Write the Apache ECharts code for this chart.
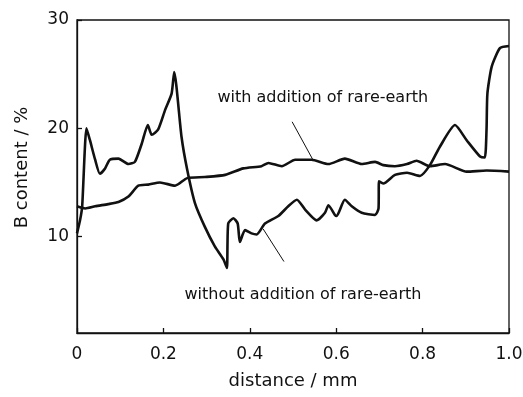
<!DOCTYPE html>
<html>
<head>
<meta charset="utf-8">
<script src="https://cdn.jsdelivr.net/npm/echarts@6/dist/echarts.min.js"></script>
<style>
  html, body { margin: 0; padding: 0; background: #fff; }
  #chart { width: 523px; height: 397px; }
</style>
</head>
<body>
<div id="chart"></div>
<script>
// B content vs distance
const withDist = [0, 0.019, 0.042, 0.072, 0.096, 0.119, 0.142, 0.165, 0.192, 0.227, 0.255, 0.296, 0.343, 0.385,
  0.427, 0.443, 0.474, 0.505, 0.543, 0.582, 0.620, 0.659, 0.690, 0.709, 0.736, 0.764, 0.786, 0.817, 0.852,
  0.902, 0.948, 1.0];
const withB = [12.8, 12.6, 12.8, 13.0, 13.2, 13.7, 14.7, 14.8, 15.0, 14.7, 15.4, 15.5, 15.7, 16.3,
  16.5, 16.8, 16.5, 17.1, 17.1, 16.7, 17.2, 16.7, 16.9, 16.6, 16.5, 16.7, 17.0, 16.5, 16.7,
  16.0, 16.1, 16.0];

const withoutDist = [0, 0.007, 0.012, 0.022, 0.030, 0.042, 0.053, 0.065, 0.076, 0.096, 0.119, 0.134, 0.150,
  0.164, 0.173, 0.188, 0.204, 0.219, 0.225, 0.242, 0.255, 0.273, 0.296, 0.319, 0.339, 0.347, 0.350, 0.362,
  0.372, 0.377, 0.389, 0.404, 0.416, 0.435, 0.466, 0.489, 0.509, 0.528, 0.555, 0.574, 0.582, 0.597, 0.601,
  0.620, 0.636, 0.659, 0.690, 0.698, 0.699, 0.709, 0.736, 0.764, 0.794, 0.817, 0.840, 0.875, 0.902, 0.933,
  0.944, 0.948, 0.950, 0.960, 0.979, 1.0];
const withoutB = [10.3, 11.5, 12.8, 20.0, 18.9, 17.1, 15.8, 16.3, 17.1, 17.2, 16.7, 16.9, 18.6,
  20.3, 19.4, 19.9, 21.7, 23.2, 25.2, 19.2, 16.2, 13.1, 10.9, 9.1, 7.9, 7.1, 11.2, 11.7,
  11.2, 9.5, 10.6, 10.3, 10.2, 11.2, 11.9, 12.8, 13.4, 12.5, 11.5, 12.2, 12.9, 12.0, 11.9,
  13.4, 12.8, 12.2, 12.0, 12.6, 15.1, 14.9, 15.7, 15.9, 15.6, 16.6, 18.3, 20.3, 18.9, 17.4,
  17.3, 19.9, 23.2, 25.7, 27.4, 27.6];

const xTicks = [0, 0.2, 0.4, 0.6, 0.8, 1.0];
const yTicks = [10, 20, 30];

// annotation labels and their leader lines (data coordinates)
const noteText = ['with addition of rare-earth', 'without addition of rare-earth'];
const noteAt = [[0.569, 22.8], [0.523, 4.6]];
const leaderFrom = [[0.498, 20.6], [0.431, 10.7]];
const leaderTo = [[0.546, 17.1], [0.479, 7.7]];

const FONT = 'DejaVu Sans';
const INK = '#111';

const zip = (xs, ys) => xs.map((x, i) => [x, ys[i]]);

const chart = echarts.init(document.getElementById('chart'), null, { renderer: 'canvas' });

const option = {
  animation: false,
  backgroundColor: '#fff',
  grid: {
    left: 77,
    right: 14,
    top: 20,
    bottom: 64,
    show: true,
    borderColor: INK,
    borderWidth: 1.3,
    containLabel: false,
    outerBoundsMode: 'none',
  },
  xAxis: {
    type: 'value',
    min: 0,
    max: 1,
    interval: 0.2,
    name: 'distance / mm',
    nameLocation: 'middle',
    nameGap: 39,
    nameTextStyle: { fontFamily: FONT, fontSize: 18, color: INK },
    axisLine: { lineStyle: { color: INK, width: 1.3 } },
    axisTick: { inside: true, length: 5, lineStyle: { color: INK, width: 1.3 } },
    axisLabel: {
      margin: 13,
      fontFamily: FONT,
      fontSize: 17,
      color: INK,
      formatter: (v) => {
        const t = xTicks.find((k) => Math.abs(k - v) < 1e-6);
        return t === undefined ? '' : (t === 0 ? '0' : t.toFixed(1));
      },
    },
    splitLine: { show: false },
  },
  yAxis: {
    type: 'value',
    min: 1.1,
    max: 30,
    splitNumber: 3,
    name: 'B content / %',
    nameLocation: 'middle',
    nameGap: 46,
    nameTextStyle: { fontFamily: FONT, fontSize: 18, color: INK, padding: [0, 0, 0, 18] },
    axisLine: { lineStyle: { color: INK, width: 1.3 } },
    axisTick: { inside: true, length: 5, lineStyle: { color: INK, width: 1.3 } },
    axisLabel: {
      margin: 8,
      fontFamily: FONT,
      fontSize: 17,
      color: INK,
      showMinLabel: false,
      formatter: (v) => (yTicks.some((k) => Math.abs(k - v) < 1e-6) ? String(Math.round(v)) : ''),
    },
    splitLine: { show: false },
  },
  series: [
    {
      name: 'with addition of rare-earth',
      type: 'line',
      data: zip(withDist, withB),
      smooth: 0.2,
      symbol: 'none',
      lineStyle: { color: INK, width: 2.6, join: 'round' },
      silent: true,
    },
    {
      name: 'without addition of rare-earth',
      type: 'line',
      data: zip(withoutDist, withoutB),
      smooth: 0.2,
      symbol: 'none',
      lineStyle: { color: INK, width: 2.6, join: 'round' },
      silent: true,
      markLine: {
        silent: true,
        symbol: 'none',
        label: { show: false },
        lineStyle: { color: INK, width: 1, type: 'solid' },
        data: leaderFrom.map((p, i) => [{ coord: p }, { coord: leaderTo[i] }]),
      },
      markPoint: {
        silent: true,
        symbol: 'circle',
        symbolSize: 0,
        label: {
          show: true,
          position: 'inside',
          formatter: '{b}',
          fontFamily: FONT,
          fontSize: 16,
          color: INK,
        },
        data: noteText.map((t, i) => ({ name: t, coord: noteAt[i] })),
      },
    },
  ],
};

chart.setOption(option);
</script>
</body>
</html>
